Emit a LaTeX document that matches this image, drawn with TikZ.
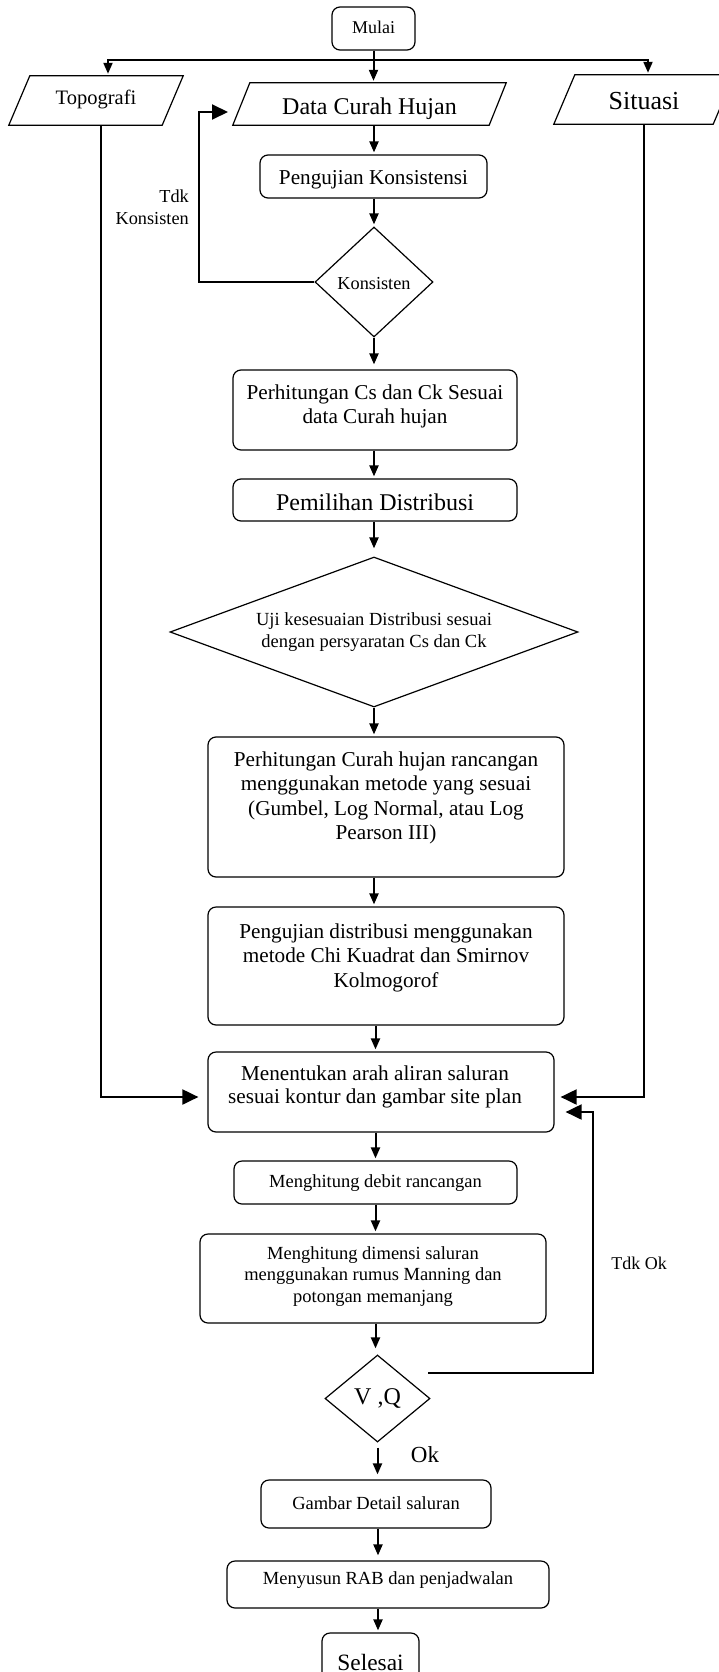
\documentclass[tikz,border=0pt]{standalone}
\usepackage{fontspec}
\setmainfont{Liberation Serif}
\usetikzlibrary{arrows.meta,shapes.geometric,calc}
\newcommand{\mybox}[3]{\parbox[c][#1][t]{#2}{\centering\strut #3}}
\begin{document}
\begin{tikzpicture}[x=1pt,y=-1pt,
  bord/.style={line width=1.2pt},
  rbox/.style={draw,bord,rounded corners=8pt,inner sep=0pt},
  para/.style={inner sep=0pt},
  dia/.style={draw,bord,diamond,inner sep=0pt},
  conn/.style={line width=2pt},
  arr/.style={conn,-{Triangle[length=11pt,width=9pt]},shorten >=2pt},
  arrbig/.style={conn,-{Triangle[length=16pt,width=15pt]}},
  fs/.style={font=\fontsize{18.5}{21.7}\selectfont},
  fm/.style={font=\fontsize{21.2}{24.5}\selectfont},
  txtb/.style={text height=#1,text depth=0pt},
]
\useasboundingbox (0,0) rectangle (718,1672);

% nodes
\node[rbox,font=\fontsize{18}{21}\selectfont,minimum width=83pt,minimum height=43pt,txtb=9.6pt] (mulai) at (373.5,28.5) {Mulai};

\node[para,font=\fontsize{20.5}{24}\selectfont,minimum width=174pt,minimum height=49pt,txtb=7.6pt] (topo) at (96,100.5) {Topografi};
\node[para,font=\fontsize{24}{27}\selectfont,minimum width=273pt,minimum height=42pt,txtb=20.6pt] (data) at (369.5,104) {Data Curah Hujan};
\node[para,font=\fontsize{26}{30}\selectfont,minimum width=180pt,minimum height=49pt,txtb=19.6pt] (sit) at (644,99.5) {Situasi};
\draw[bord] ([xshift=21pt]topo.north west) -- (topo.north east) -- ([xshift=-21pt]topo.south east) -- (topo.south west) -- cycle;
\draw[bord] ([xshift=17pt]data.north west) -- (data.north east) -- ([xshift=-17pt]data.south east) -- (data.south west) -- cycle;
\draw[bord] ([xshift=21pt]sit.north west) -- (sit.north east) -- ([xshift=-21pt]sit.south east) -- (sit.south west) -- cycle;

\node[rbox,fm,minimum width=227pt,minimum height=43pt,txtb=15.6pt] (peng) at (373.5,176.5) {Pengujian Konsistensi};
\node[dia,font=\fontsize{18.3}{22}\selectfont,minimum width=118pt,minimum height=110pt,txtb=14.6pt] (kons) at (374,282) {Konsisten};
\node[font=\fontsize{18.3}{22}\selectfont,align=right,inner sep=0pt,anchor=north east] (tdk) at (189,189.5) {Tdk\\Konsisten};

\node[rbox,fm,minimum width=284pt,minimum height=80pt] (cs) at (375,410) {\mybox{56pt}{270pt}{Perhitungan Cs dan Ck Sesuai\\ data Curah hujan}};
\node[rbox,font=\fontsize{24}{27}\selectfont,minimum width=284pt,minimum height=42pt,txtb=21.4pt] (pem) at (375,500) {Pemilihan Distribusi};
\node[dia,fs,aspect=2.72,minimum width=408pt,minimum height=150pt,align=center] (uji) at (374,632) {Uji kesesuaian Distribusi sesuai\\dengan persyaratan Cs dan Ck};

\node[rbox,fm,minimum width=356pt,minimum height=140pt] (pch) at (386,807) {\mybox{116pt}{340pt}{Perhitungan Curah hujan rancangan\\ menggunakan metode yang sesuai\\ (Gumbel, Log Normal, atau Log\\ Pearson III)}};
\node[rbox,fm,minimum width=356pt,minimum height=118pt] (pd) at (386,966) {\mybox{90pt}{340pt}{Pengujian distribusi menggunakan\\ metode Chi Kuadrat dan Smirnov\\ Kolmogorof}};
\node[rbox,font=\fontsize{21.2}{23}\selectfont,minimum width=346pt,minimum height=80pt] (men) at (381,1092) {\hspace*{-12pt}\mybox{56pt}{330pt}{Menentukan arah aliran saluran\\ sesuai kontur dan gambar site plan}};

\node[rbox,fs,minimum width=283pt,minimum height=43pt,txtb=9.6pt] (deb) at (375.5,1182.5) {Menghitung debit rancangan};
\node[rbox,fs,minimum width=346pt,minimum height=89pt] (dim) at (373,1278.5) {\mybox{69.4pt}{330pt}{Menghitung dimensi saluran\\ menggunakan rumus Manning dan\\ potongan memanjang}};
\node[dia,font=\fontsize{24}{27}\selectfont,minimum width=105pt,minimum height=87pt,txtb=12pt] (vq) at (377.5,1398.5) {V ,Q};

\node[rbox,fs,minimum width=230pt,minimum height=48pt,txtb=10.6pt] (gd) at (376,1504) {Gambar Detail saluran};
\node[rbox,fs,minimum width=322pt,minimum height=47pt,text height=0pt,text depth=1pt] (rab) at (388,1584.5) {Menyusun RAB dan penjadwalan};
\node[rbox,font=\fontsize{23.4}{27}\selectfont,minimum width=97pt,minimum height=59pt,txtb=15pt] (sel) at (370.5,1662.5) {Selesai};

\node[font=\fontsize{18}{21}\selectfont,inner sep=0pt] (tdkok) at (639,1263) {Tdk Ok};
\node[font=\fontsize{23}{27}\selectfont,inner sep=0pt] (ok) at (425,1455) {Ok};

% helper coordinates
\coordinate (ax) at (374,0);
\coordinate (bx) at (375.5,0);
\coordinate (cx) at (378,0);
\coordinate (jl) at (108,60);
\coordinate (jr) at (648,60);
\coordinate (fb) at (199,0);
\coordinate (din) at (228,112);
\coordinate (tl) at (101,1097);
\coordinate (tr) at (644,1097);
\coordinate (vqo) at (428,1373);
\coordinate (lp) at (593,1112);

% connectors
\draw[arr] (mulai.south) -- (mulai.south |- data.north);
\draw[arr] (mulai.south |- jl) -- (jl) -- (jl |- topo.north);
\draw[arr] (mulai.south |- jr) -- (jr) -- (jr |- sit.north);
\draw[arr] (ax |- data.south) -- (ax |- peng.north);
\draw[arr] (ax |- peng.south) -- (kons.north);
\draw[arrbig] (kons.west) -- (kons.west -| fb) |- (din);
\draw[arr,shorten >=5pt] (kons.south) -- (kons.south |- cs.north);
\draw[arr] (ax |- cs.south) -- (ax |- pem.north);
\draw[arr,shorten >=8pt] (ax |- pem.south) -- (uji.north);
\draw[arr] (uji.south) -- (uji.south |- pch.north);
\draw[arr] (ax |- pch.south) -- (ax |- pd.north);
\draw[arr] (bx |- pd.south) -- (bx |- men.north);
\draw[arrbig,shorten >=9pt] (tl |- topo.south) -- (tl) -- (men.west |- tl);
\draw[arrbig,shorten >=6pt] (tr |- sit.south) -- (tr) -- (men.east |- tr);
\draw[arr] (bx |- men.south) -- (bx |- deb.north);
\draw[arr] (bx |- deb.south) -- (bx |- dim.north);
\draw[arr,shorten >=6pt] (bx |- dim.south) -- (bx |- vq.north);
\draw[arrbig,shorten >=11pt] (vqo) -| (lp) -- (men.east |- lp);
\draw[arr,shorten <=5pt,shorten >=5pt] (vq.south) -- (vq.south |- gd.north);
\draw[arr,shorten >=5pt] (cx |- gd.south) -- (cx |- rab.north);
\draw[arr] (cx |- rab.south) -- (cx |- sel.north);
\end{tikzpicture}
\end{document}
